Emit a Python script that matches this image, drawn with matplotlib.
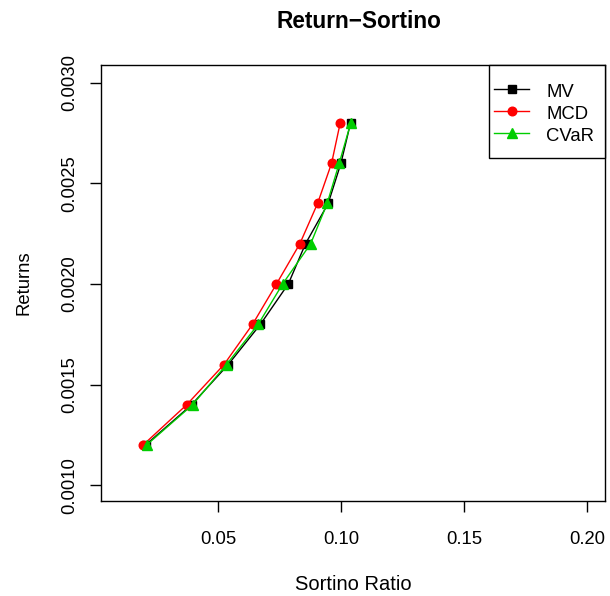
import matplotlib
matplotlib.use("Agg")
import matplotlib.pyplot as plt
from matplotlib.patches import Rectangle

plt.rcParams["font.family"] = ["Liberation Sans", "DejaVu Sans"]

# ---- data -----------------------------------------------------------------
returns = [0.0012, 0.0014, 0.0016, 0.0018, 0.0020, 0.0022, 0.0024, 0.0026, 0.0028]
sortino_mv = [0.0205, 0.0392, 0.0541, 0.0672, 0.0785, 0.0855, 0.0947, 0.0999, 0.1038]
sortino_mcd = [0.0195, 0.0372, 0.0524, 0.0640, 0.0737, 0.0832, 0.0904, 0.0961, 0.0996]
sortino_cvar = [0.0209, 0.0396, 0.0534, 0.0663, 0.0762, 0.0876, 0.0943, 0.0992, 0.1039]

x_ticks = [0.05, 0.10, 0.15, 0.20]
y_ticks = [0.0010, 0.0015, 0.0020, 0.0025, 0.0030]

W, H = 610, 596
FS = 13.3
fig = plt.figure(figsize=(W / 100, H / 100), dpi=100)
# plot box in pixels: x 101..605, y 65..501
ax = fig.add_axes([101 / W, 1 - 501 / H, (605 - 101) / W, (501 - 65) / H])

ax.plot(sortino_mv, returns, color="black", marker="s", markersize=6.2, lw=1, label="MV")
ax.plot(sortino_mcd, returns, color="#FF0000", marker="o", markersize=6.2, lw=1, label="MCD")
ax.plot(sortino_cvar, returns, color="#00CD00", marker="^", markersize=7.2, lw=1, label="CVaR")

ax.set_xlim(0.0024, 0.2072)
ax.set_ylim(0.000922, 0.003088)
ax.set_xticks(x_ticks)
ax.set_xticklabels([f"{v:.2f}" for v in x_ticks])
ax.set_yticks(y_ticks)
ax.set_yticklabels([f"{v:.4f}" for v in y_ticks], rotation=90, va="center")
ax.tick_params(direction="out", length=8, width=1, labelsize=FS)
ax.tick_params(axis="x", pad=13.4)
ax.tick_params(axis="y", pad=8.4)
for s in ax.spines.values():
    s.set_linewidth(1)

ax.set_xlabel("Sortino Ratio", fontsize=14.5, labelpad=19.4)
ax.set_ylabel("Returns", fontsize=FS, labelpad=20.7)
ax.set_title("Return\u2212Sortino", fontsize=16.3, fontweight="bold", pad=26.5, x=0.512)

# legend: frame drawn by hand (R-style box), entries placed inside it
px = lambda x, y: ((x - 101) / 504, (501 - y) / 436)
x0, y0 = px(489, 158)
x1, y1 = px(605, 65)
ax.add_patch(Rectangle((x0, y0), x1 - x0, y1 - y0, transform=ax.transAxes,
                       facecolor="white", edgecolor="black", lw=1, zorder=4,
                       clip_on=False))
leg = ax.legend(loc="upper left", bbox_to_anchor=px(494, 81.5), fontsize=FS,
                frameon=False, borderpad=0, borderaxespad=0, handlelength=1.9,
                handletextpad=0.92, handleheight=1.22, labelspacing=0.12)
leg.set_zorder(5)

fig.savefig("out.png", dpi=100)
